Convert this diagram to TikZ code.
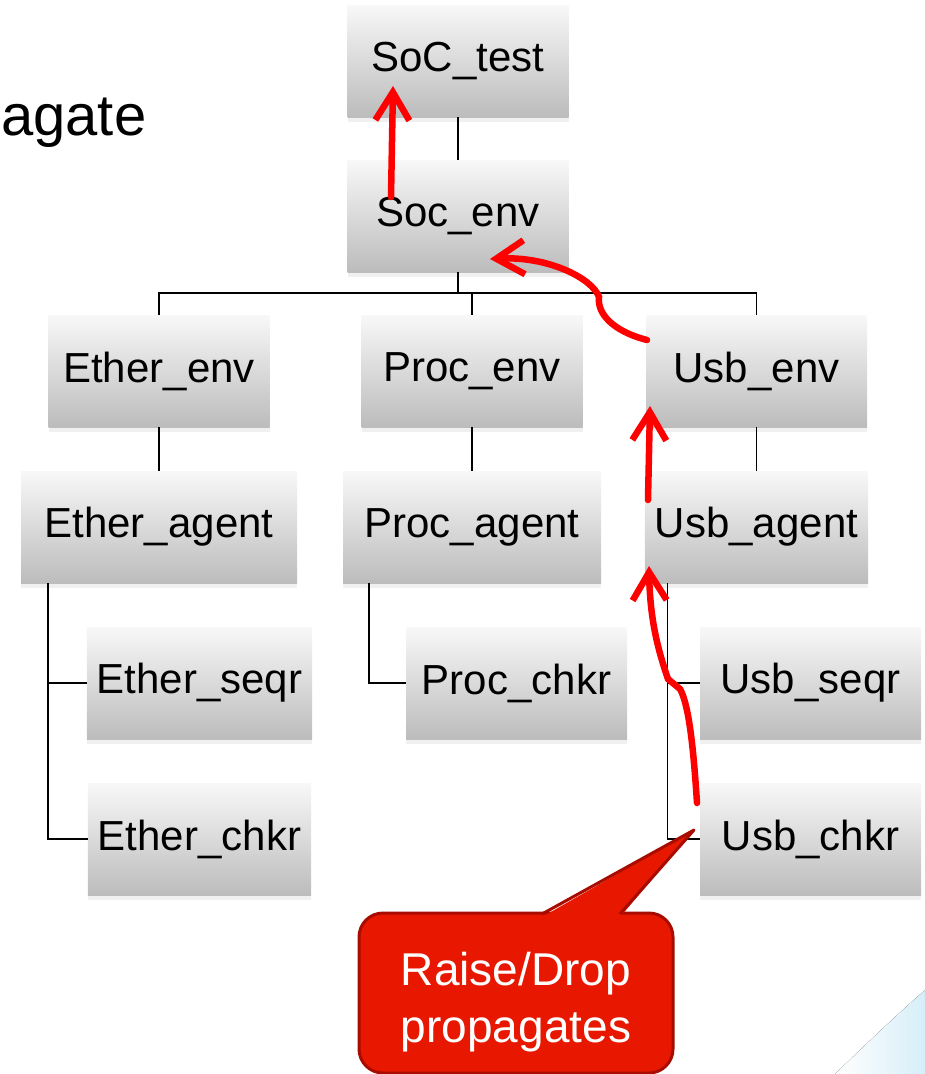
\documentclass[tikz,border=0pt]{standalone}
\usepackage{fontspec}
\setmainfont{Liberation Sans}
\usetikzlibrary{arrows.meta,shadows}

\definecolor{boxtop}{HTML}{F8F8F8}
\definecolor{boxbot}{HTML}{BCBCBC}
\definecolor{noteface}{HTML}{E81800}
\definecolor{noteedge}{HTML}{A80C00}
\definecolor{raisered}{HTML}{FF0000}
\definecolor{slideblue}{HTML}{D6EEF8}

\begin{document}
\begin{tikzpicture}[x=1pt, y=-1pt,
  comp/.style={top color=boxtop, bottom color=boxbot, minimum width=221pt,
    minimum height=112pt, inner xsep=10pt, font=\fontsize{42}{48}\selectfont,
    drop shadow={shadow xshift=0pt, shadow yshift=-5pt, opacity=0.12}},
  tree/.style={line width=1.5pt},
  raise/.style={raisered, line width=6.5pt, line cap=round,
    -{Straight Barb[length=28pt, width=34pt]}},
  notebox/.style={draw=noteedge, line width=3pt, fill=noteface, rounded corners=24pt,
    minimum width=314pt, minimum height=160pt},
  notetext/.style={text=white, align=center, yshift=-9pt,
    font=\fontsize{46}{57}\selectfont}]
  \useasboundingbox (0,0) rectangle (925,1074);

  % slide corner
  \fill[left color=white, right color=slideblue] (925,990) .. controls (880,1030) and (855,1055) .. (835,1074) -- (925,1074) -- cycle;

  \node[font=\fontsize{58}{60}\selectfont, anchor=base west, inner sep=0pt] (title) at (1,135) {agate};

  % hierarchy
  \node[comp] (test) at (458,61) {SoC\_test};
  \node[comp] (socenv) at (458,216) {Soc\_env};
  \node[comp] (etherenv) at (159,371) {Ether\_env};
  \node[comp] (procenv) at (472,371) {Proc\_env};
  \node[comp] (usbenv) at (756.5,371) {Usb\_env};
  \node[comp, minimum width=276pt] (etheragent) at (159,527) {Ether\_agent};
  \node[comp, minimum width=258pt] (procagent) at (472,527) {Proc\_agent};
  \node[comp] (usbagent) at (756.5,527) {Usb\_agent};
  \node[comp] (etherseqr) at (199.5,683) {Ether\_seqr};
  \node[comp] (procchkr) at (516.5,683) {Proc\_chkr};
  \node[comp] (usbseqr) at (810.5,683) {Usb\_seqr};
  \node[comp] (etherchkr) at (199.5,839) {Ether\_chkr};
  \node[comp] (usbchkr) at (810.5,839) {Usb\_chkr};

  \coordinate (bus) at (458,293);
  \draw[tree] (test) -- (socenv);
  \draw[tree] (socenv) -- (bus);
  \draw[tree] (etherenv.north) |- (bus) -| (usbenv.north);
  \draw[tree] (procenv.north) -- (procenv.north |- bus);
  \draw[tree] (etherenv) -- (etheragent);
  \draw[tree] (procenv) -- (procagent);
  \draw[tree] (usbenv) -- (usbagent);
  \draw[tree] ([xshift=27pt]etheragent.south west) |- (etherseqr.west);
  \draw[tree] ([xshift=27pt]etheragent.south west) |- (etherchkr.west);
  \draw[tree] ([xshift=26pt]procagent.south west) |- (procchkr.west);
  \draw[tree] ([xshift=23pt]usbagent.south west) |- (usbseqr.west);
  \draw[tree] ([xshift=23pt]usbagent.south west) |- (usbchkr.west);

  % propagation path
  \coordinate (chkrpt) at (697,803);
  \coordinate (agentpt) at (648,500);
  \coordinate (usbenvpt) at (647,340);
  \coordinate (socenvpt) at (391,197);
  \draw[raise] (chkrpt) .. controls (693,740) and (688,703) .. (680,689)
    -- (668,679) .. controls (658,650) and (650,620) .. (649,566);
  \draw[raise] (agentpt) -- (650,406);
  \draw[raise] (usbenvpt) .. controls (612,331) and (597,313) .. (599,297)
    .. controls (592,278) and (548,256) .. (490,259);
  \draw[raise] (socenvpt) -- (393,86);

  % callout
  \node[notebox, label={[notetext]center:Raise/Drop\\propagates}] (note) at (516,993) {};
  \coordinate (tip) at (694,830);
  \fill[noteface] (542,917) -- (tip) -- (620,917) -- cycle;
  \draw[noteedge, line width=3pt, line join=round] (542,914) -- (tip) -- (620,914);
\end{tikzpicture}
\end{document}
